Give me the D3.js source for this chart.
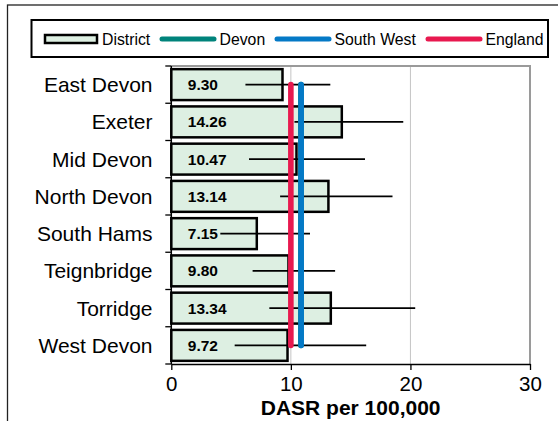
<!DOCTYPE html>
<html>
<head>
<meta charset="utf-8">
<script src="https://cdn.jsdelivr.net/npm/d3@7"></script>
<style>
  html, body { margin: 0; padding: 0; background: #fff; }
  svg { display: block; font-family: Arial, "Liberation Sans", sans-serif; }
</style>
</head>
<body>
<svg id="main-svg" width="558" height="421"></svg>
<script>
// chart data
var districts = ['East Devon', 'Exeter', 'Mid Devon', 'North Devon', 'South Hams', 'Teignbridge', 'Torridge', 'West Devon']
var rates = [9.30, 14.26, 10.47, 13.14, 7.15, 9.80, 13.34, 9.72]
var lowerCI = [6.2, 10.3, 6.5, 9.1, 4.1, 6.8, 8.2, 5.3]
var upperCI = [13.3, 19.4, 16.2, 18.5, 11.6, 13.7, 20.4, 16.3]
var refNames = ['Devon', 'South West', 'England']
var refValues = [10.84, 10.86, 10.0]
var refColours = ['#00837b', '#0479c6', '#e8194f']
var xTicks = [0, 10, 20, 30]
var xTitle = 'DASR per 100,000'

var barFill = '#ddefe2'
var svg = d3.select('#main-svg')

// outer frame (clipped by the window on the right and bottom)
svg.append('rect')
    .attr('x', 7.5).attr('y', 5)
    .attr('width', 700).attr('height', 600)
    .attr('fill', 'none').attr('stroke', '#222').attr('stroke-width', 1.3)

var plot = { left: 171.3, right: 530, top: 66, bottom: 364 }

var x = d3.scaleLinear().domain([0, 30]).range([plot.left, plot.right])
var y = d3.scaleBand().domain(districts).range([plot.top, plot.bottom])
    .paddingInner(0.17).paddingOuter(0.085)

// gridlines
svg.append('g').selectAll('line')
    .data(xTicks.slice(1, -1))
    .enter().append('line')
    .attr('x1', function(d) { return x(d) }).attr('x2', function(d) { return x(d) })
    .attr('y1', plot.top).attr('y2', plot.bottom)
    .attr('stroke', '#c4c4c4').attr('stroke-width', 1)

// plot area border (top and right, grey)
svg.append('path')
    .attr('d', 'M' + plot.left + ',' + plot.top + 'H' + plot.right + 'V' + plot.bottom)
    .attr('fill', 'none').attr('stroke', '#9a9a9a').attr('stroke-width', 2)

// bars
var rows = districts.map(function(d, i) {
    return { name: d, rate: rates[i], lo: lowerCI[i], hi: upperCI[i] }
})
svg.append('g').selectAll('rect')
    .data(rows)
    .enter().append('rect')
    .attr('x', x(0))
    .attr('y', function(d) { return y(d.name) })
    .attr('width', function(d) { return x(d.rate) - x(0) })
    .attr('height', y.bandwidth())
    .attr('fill', barFill)
    .attr('stroke', '#000').attr('stroke-width', 2.5)

// confidence intervals
svg.append('g').selectAll('line')
    .data(rows)
    .enter().append('line')
    .attr('x1', function(d) { return x(d.lo) })
    .attr('x2', function(d) { return x(d.hi) })
    .attr('y1', function(d) { return y(d.name) + y.bandwidth() / 2 })
    .attr('y2', function(d) { return y(d.name) + y.bandwidth() / 2 })
    .attr('stroke', '#000').attr('stroke-width', 1.6)

// value labels
svg.append('g').selectAll('text')
    .data(rows)
    .enter().append('text')
    .attr('x', x(0) + 16.5)
    .attr('y', function(d) { return y(d.name) + y.bandwidth() / 2 })
    .attr('dy', '0.36em')
    .attr('font-size', 15.5).attr('font-weight', 'bold')
    .text(function(d) { return d.rate.toFixed(2) })

// reference lines
var yFirst = y(districts[0]) + y.bandwidth() / 2
var yLast = y(districts[districts.length - 1]) + y.bandwidth() / 2
svg.append('g').selectAll('line')
    .data(refValues)
    .enter().append('line')
    .attr('x1', function(d) { return x(d) }).attr('x2', function(d) { return x(d) })
    .attr('y1', yFirst).attr('y2', yLast)
    .attr('stroke', function(d, i) { return refColours[i] })
    .attr('stroke-width', 5.6)
    .attr('stroke-linecap', 'round')

// left axis: line with ticks at band boundaries
var bounds = d3.range(districts.length + 1).map(function(i) {
    return y.range()[0] + i * y.step()
})
var yAxis = svg.append('g')
yAxis.append('line')
    .attr('x1', x(0)).attr('x2', x(0))
    .attr('y1', plot.top).attr('y2', plot.bottom)
    .attr('stroke', '#000').attr('stroke-width', 1.5)
yAxis.selectAll('.tk')
    .data(bounds)
    .enter().append('line')
    .attr('class', 'tk')
    .attr('x1', x(0) - 6).attr('x2', x(0))
    .attr('y1', function(d) { return d }).attr('y2', function(d) { return d })
    .attr('stroke', '#000').attr('stroke-width', 1.3)
yAxis.selectAll('text')
    .data(districts)
    .enter().append('text')
    .attr('x', 152.5)
    .attr('y', function(d) { return y(d) + y.bandwidth() / 2 })
    .attr('dy', '0.36em')
    .attr('text-anchor', 'end')
    .attr('font-size', 21)
    .text(function(d) { return d })

// bottom axis
var xAxis = svg.append('g')
    .attr('transform', 'translate(0,' + plot.bottom + ')')
    .call(d3.axisBottom(x).tickValues(xTicks).tickSize(6).tickPadding(6).tickSizeOuter(0))
xAxis.select('.domain').attr('stroke', '#000').attr('stroke-width', 1.5)
xAxis.selectAll('.tick line').attr('stroke', '#000').attr('stroke-width', 1.3)
xAxis.selectAll('.tick text')
    .attr('font-size', 20.5).attr('font-family', 'Arial, "Liberation Sans", sans-serif')
    .attr('fill', '#000')

svg.append('text')
    .attr('x', (x(0) + x(30)) / 2)
    .attr('y', 415)
    .attr('text-anchor', 'middle')
    .attr('font-size', 21).attr('font-weight', 'bold')
    .text(xTitle)

// legend
var legend = svg.append('g')
legend.append('rect')
    .attr('x', 31.5).attr('y', 20)
    .attr('width', 516.5).attr('height', 37)
    .attr('fill', '#fff').attr('stroke', '#000').attr('stroke-width', 2)

var legendY = 39
legend.append('rect')
    .attr('x', 45).attr('y', 35)
    .attr('width', 52).attr('height', 8)
    .attr('fill', barFill).attr('stroke', '#000').attr('stroke-width', 2.5)
legend.append('text')
    .attr('x', 102).attr('y', legendY).attr('dy', '0.36em')
    .attr('font-size', 15.8)
    .text('District')

var legendLineX = [162, 277, 428]
legend.selectAll('.ll')
    .data(refNames)
    .enter().append('line')
    .attr('class', 'll')
    .attr('x1', function(d, i) { return legendLineX[i] })
    .attr('x2', function(d, i) { return legendLineX[i] + 52 })
    .attr('y1', legendY).attr('y2', legendY)
    .attr('stroke', function(d, i) { return refColours[i] })
    .attr('stroke-width', 5)
    .attr('stroke-linecap', 'round')
legend.selectAll('.lt')
    .data(refNames)
    .enter().append('text')
    .attr('class', 'lt')
    .attr('x', function(d, i) { return legendLineX[i] + 57.5 })
    .attr('y', legendY).attr('dy', '0.36em')
    .attr('font-size', 15.8)
    .text(function(d) { return d })
</script>
</body>
</html>
